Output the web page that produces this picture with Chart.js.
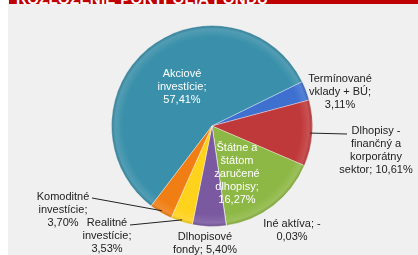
<!DOCTYPE html>
<html>
<head>
<meta charset="utf-8">
<script src="https://cdn.jsdelivr.net/npm/chart.js@4/dist/chart.umd.min.js"></script>
<style>
html,body{margin:0;padding:0;background:#fff;}
#wrap{position:relative;width:418px;height:255px;overflow:hidden;background:#fff;}
#bg{position:absolute;left:8px;top:0;width:410px;height:255px;background:#F0F0F0;}
#title{position:absolute;left:9px;top:-9px;width:409px;height:13px;background:#C00000;color:#fff;overflow:visible;
 font:bold 15px "Liberation Sans",Arial,sans-serif;line-height:15px;padding-left:7px;box-sizing:border-box;white-space:nowrap;letter-spacing:0.3px;}
#title span{display:inline-block;}
canvas{position:absolute;left:0;top:0;}
</style>
</head>
<body>
<div id="wrap">
<div id="bg"></div>
<div id="title"><span>ROZLOŽENIE PORTFÓLIA FONDU</span></div>
<canvas id="c" width="418" height="255"></canvas>
</div>
<script>
const categories = ["Akciové investície","Termínované vklady + BÚ","Dlhopisy - finančný a korporátny sektor","Štátne a štátom zaručené dlhopisy","Iné aktíva","Dlhopisové fondy","Realitné investície","Komoditné investície"];
const values = [57.41, 3.11, 10.61, 16.27, 0.03, 5.40, 3.53, 3.70];
const labelLines = [
  ["Akciové","investície;","57,41%"],
  ["Termínované","vklady + BÚ;","3,11%"],
  ["Dlhopisy -","finančný a","korporátny","sektor; 10,61%"],
  ["Štátne a","štátom","zaručené","dlhopisy;","16,27%"],
  ["Iné aktíva; -","0,03%"],
  ["Dlhopisové","fondy; 5,40%"],
  ["Realitné","investície;","3,53%"],
  ["Komoditné","investície;","3,70%"]
];
const colors = ["#3A90AA","#3E70D0","#C0393A","#8DB845","#A0A0A0","#7A59A1","#FFD21C","#F07E14"];

// label layout (text centre x, first line y, colour, leader line start or null)
const labelLayout = [
  {x:182,y:74,c:"#fff",lead:null},
  {x:340,y:79,c:"#222",lead:null},
  {x:376,y:131,c:"#222",lead:[347,134]},
  {x:237,y:148,c:"#fff",lead:null},
  {x:292,y:224,c:"#222",lead:null},
  {x:205,y:237,c:"#222",lead:null},
  {x:107,y:223,c:"#222",lead:[130,225]},
  {x:63,y:197,c:"#222",lead:[92,198]}
];

function shade(hex, f){
  const n=parseInt(hex.slice(1),16);
  let r=(n>>16)&255,g=(n>>8)&255,b=n&255;
  if(f<0){r=r*(1+f);g=g*(1+f);b=b*(1+f);}else{r=r+(255-r)*f;g=g+(255-g)*f;b=b+(255-b)*f;}
  return `rgb(${Math.round(r)},${Math.round(g)},${Math.round(b)})`;
}

const labelPlugin = {
  id:'labels',
  afterDatasetsDraw(chart){
    const ctx=chart.ctx;
    const meta=chart.getDatasetMeta(0);
    ctx.save();
    ctx.font='11px "Liberation Sans", Arial, sans-serif';
    ctx.textAlign='center';
    ctx.textBaseline='middle';
    labelLayout.forEach((L,i)=>{
      const arc=meta.data[i];
      if(L.lead){
        const p=arc.getProps(['x','y','startAngle','endAngle','outerRadius'],true);
        const mid=(p.startAngle+p.endAngle)/2;
        const ax=p.x+Math.cos(mid)*p.outerRadius*0.98;
        const ay=p.y+Math.sin(mid)*p.outerRadius*0.98;
        ctx.strokeStyle='#222';
        ctx.lineWidth=1;
        ctx.beginPath();
        ctx.moveTo(L.lead[0],L.lead[1]);
        ctx.lineTo(ax,ay);
        ctx.stroke();
      }
      ctx.fillStyle=L.c;
      labelLines[i].forEach((t,k)=>{
        ctx.fillText(t,L.x,L.y+k*13);
      });
    });
    ctx.restore();
  }
};

new Chart(document.getElementById('c'),{
  type:'pie',
  data:{labels:categories,datasets:[{
    data:values,
    backgroundColor:(ctx)=>{
      const chart=ctx.chart; const a=chart.chartArea;
      if(!a) return colors[ctx.dataIndex];
      const cx=(a.left+a.right)/2, cy=(a.top+a.bottom)/2, r=Math.min(a.right-a.left,a.bottom-a.top)/2;
      const g=chart.ctx.createRadialGradient(cx,cy,0,cx,cy,r);
      const c=colors[ctx.dataIndex];
      g.addColorStop(0,c);
      g.addColorStop(0.88,c);
      g.addColorStop(0.96,shade(c,0.12));
      g.addColorStop(1,shade(c,-0.15));
      return g;
    },
    borderColor:'rgba(255,255,255,0.35)',
    borderWidth:1
  }]},
  options:{
    responsive:false,
    animation:false,
    rotation:-142.7,
    layout:{padding:{left:111,right:105,top:25,bottom:28}},
    plugins:{legend:{display:false},tooltip:{enabled:false}}
  },
  plugins:[labelPlugin]
});
</script>
</body>
</html>
